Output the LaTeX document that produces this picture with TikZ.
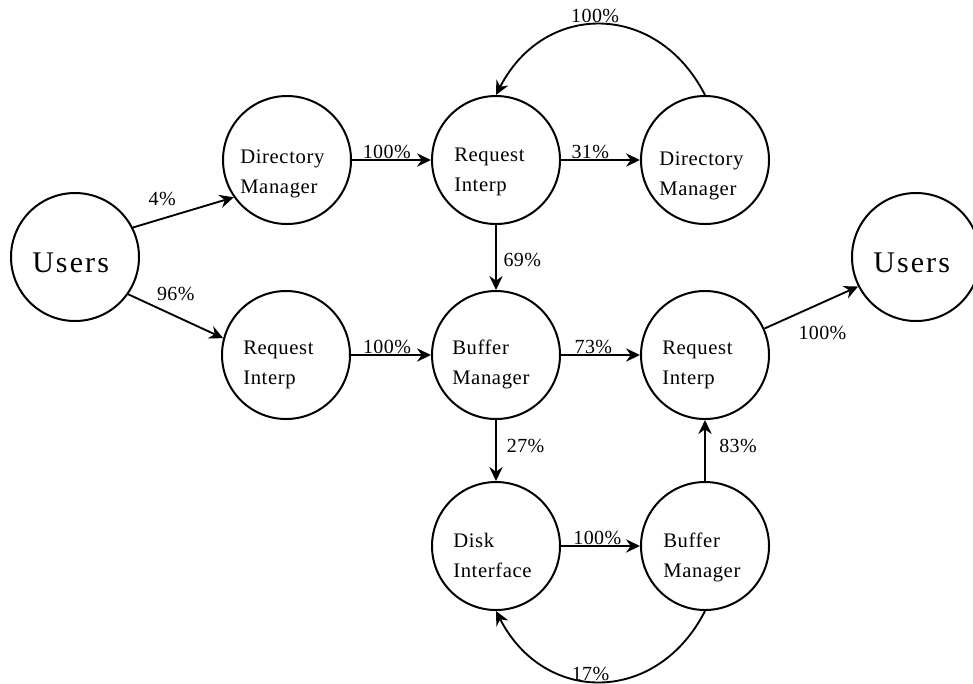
\documentclass[tikz,border=0pt]{standalone}
\usepackage{fontspec}
\setmainfont{Liberation Serif}
\newfontfamily\boxfont{Liberation Serif}[LetterSpace=3]
\newfontfamily\pctfont{Liberation Serif}[LetterSpace=2]
\newfontfamily\userfont{Liberation Serif}[LetterSpace=7]
\usetikzlibrary{arrows.meta}
% strut that fixes the height of the first line of a process label
\newcommand{\topstrut}{\rule{0pt}{11pt}}

\begin{document}
\begin{tikzpicture}[x=0.75pt, y=-0.75pt,
  proc/.style={circle, draw=black, line width=1.5pt, minimum size=96pt, inner sep=0pt},
  ptext/.style={anchor=north west, inner sep=0pt, align=left, yshift=11pt,
    font=\boxfont\fontsize{15.5pt}{22.5pt}\selectfont},
  utext/.style={anchor=base west, inner sep=0pt,
    font=\userfont\fontsize{22.5pt}{27pt}\selectfont},
  flow/.style={line width=1.4pt, -{Stealth[length=10.5pt, width=10pt, inset=3.5pt]}},
  pct/.style={inner sep=0pt, font=\pctfont\fontsize{15pt}{18pt}\selectfont},
]
\useasboundingbox (0,0) rectangle (973,683);
\fill[white] (0,0) rectangle (973,683);

% process circles
\node[proc] (usersIn)  at (75,257)  {};
\node[proc] (dirA)     at (287,160) {};
\node[proc] (reqA)     at (496,160) {};
\node[proc] (dirB)     at (705,160) {};
\node[proc] (reqB)     at (286,355) {};
\node[proc] (bufA)     at (496,355) {};
\node[proc] (reqC)     at (705,355) {};
\node[proc] (usersOut) at (916,257) {};
\node[proc] (disk)     at (496,546) {};
\node[proc] (bufB)     at (705,546) {};

% labels inside the circles
\node[utext] (usersIn-t)  at ([shift={(-43,15)}]usersIn.center)  {Users};
\node[utext] (usersOut-t) at ([shift={(-43,15)}]usersOut.center) {Users};
\node[ptext] (dirA-t) at ([shift={(-47,3)}]dirA.center) {\topstrut Directory\\Manager};
\node[ptext] (reqA-t) at ([shift={(-42,1)}]reqA.center) {\topstrut Request\\Interp};
\node[ptext] (dirB-t) at ([shift={(-46,5)}]dirB.center) {\topstrut Directory\\Manager};
\node[ptext] (reqB-t) at ([shift={(-43,-1)}]reqB.center) {\topstrut Request\\Interp};
\node[ptext] (bufA-t) at ([shift={(-44,-1)}]bufA.center) {\topstrut Buffer\\Manager};
\node[ptext] (reqC-t) at ([shift={(-43,-1)}]reqC.center) {\topstrut Request\\Interp};
\node[ptext] (disk-t) at ([shift={(-43,1)}]disk.center) {\topstrut Disk\\Interface};
\node[ptext] (bufB-t) at ([shift={(-42,1)}]bufB.center) {\topstrut Buffer\\Manager};

% flows between the processes
\draw[flow] (usersIn.27) -- node[pct, pos=0.29, yshift=15pt] (p1) {4\%} (dirA.215);
\draw[flow] (usersIn.325) -- node[pct, pos=0.5, yshift=17pt] (p2) {96\%} (reqB.165);
\draw[flow] (dirA) -- node[pct, pos=0.44, anchor=base, yshift=1pt] (p3) {100\%} (reqA);
\draw[flow] (reqA) -- node[pct, pos=0.37, anchor=base, yshift=1pt] (p4) {31\%} (dirB);
\draw[flow] (reqA) -- node[pct, pos=0.54, anchor=west, xshift=5pt] (p5) {69\%} (bufA);
\draw[flow] (reqB) -- node[pct, pos=0.45, anchor=base, yshift=1pt] (p6) {100\%} (bufA);
\draw[flow] (bufA) -- node[pct, pos=0.41, anchor=base, yshift=1pt] (p7) {73\%} (reqC);
\draw[flow] (bufA) -- node[pct, pos=0.42, anchor=west, xshift=7.5pt] (p8) {27\%} (disk);
\draw[flow] (disk) -- node[pct, pos=0.46, anchor=base, yshift=1pt] (p9) {100\%} (bufB);
\draw[flow] (bufB) -- node[pct, pos=0.58, anchor=west, xshift=10pt] (p10) {83\%} (reqC);
\draw[flow] (reqC.24) -- node[pct, pos=0.62, yshift=-23pt] (p11) {100\%} (usersOut.207);

% feedback loops
\draw[flow] (dirB.north) .. controls (657,1) and (544,1) .. (reqA.north)
  node[pct, pos=0.5, anchor=base, xshift=-4pt, yshift=1.5pt] (p12) {100\%};
\draw[flow] (bufB.south) .. controls (657,705) and (544,705) .. (disk.south)
  node[pct, pos=0.5, anchor=base, xshift=-7.5pt, yshift=1pt] (p13) {17\%};
\end{tikzpicture}
\end{document}
